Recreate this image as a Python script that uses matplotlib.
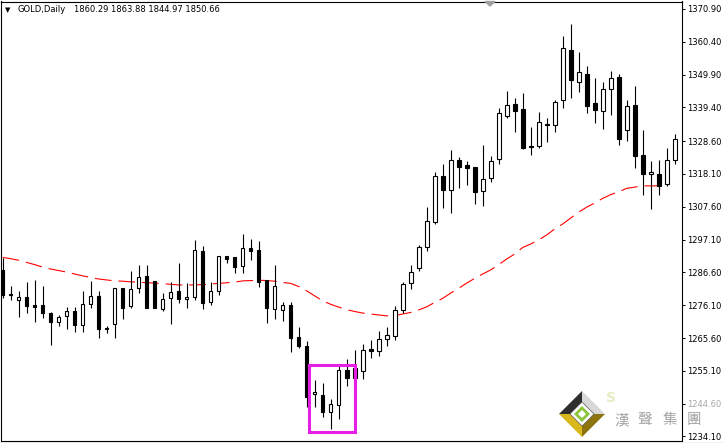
import matplotlib.pyplot as plt
from matplotlib.patches import Rectangle, Polygon
from matplotlib.lines import Line2D

# daily OHLC (oldest first)
opens = [1287.4, 1279.8, 1277.7, 1278.6, 1276.1, 1276.1, 1273.5, 1270.6, 1272.6, 1274.2,
         1269.7, 1276.4, 1279.0, 1268.6, 1270.0, 1281.5, 1275.8, 1281.5, 1285.5, 1283.8,
         1274.8, 1278.3, 1280.6, 1278.0, 1278.6, 1293.4, 1277.0, 1280.6, 1291.8, 1291.4,
         1288.7, 1294.3, 1293.8, 1284.1, 1274.8, 1274.5, 1276.1, 1265.8, 1263.0, 1247.6,
         1247.3, 1241.8, 1244.1, 1255.3, 1252.7, 1255.0, 1262.1, 1261.4, 1265.2, 1266.4,
         1274.5, 1283.1, 1287.9, 1294.6, 1302.8, 1317.4, 1313.1, 1322.5, 1320.9, 1320.2,
         1312.6, 1316.7, 1322.8, 1336.6, 1340.4, 1338.8, 1327.0, 1327.0, 1333.9, 1333.7,
         1341.7, 1357.7, 1347.4, 1350.0, 1340.7, 1338.2, 1345.2, 1349.0, 1332.1, 1340.1,
         1324.1, 1318.0, 1318.0, 1315.0, 1322.5]
highs = [1291.1, 1282.3, 1280.6, 1283.5, 1284.2, 1282.3, 1273.8, 1273.1, 1275.4, 1275.4,
         1280.6, 1283.8, 1280.6, 1269.6, 1281.5, 1281.5, 1287.0, 1288.9, 1288.9, 1283.8,
         1279.9, 1283.4, 1289.5, 1283.1, 1297.0, 1295.1, 1283.4, 1291.8, 1291.8, 1291.4,
         1298.9, 1297.2, 1296.7, 1284.1, 1289.1, 1277.1, 1277.1, 1269.0, 1264.6, 1252.1,
         1251.1, 1246.0, 1256.6, 1258.8, 1261.7, 1263.6, 1264.9, 1267.8, 1269.0, 1275.8,
         1283.4, 1288.9, 1295.3, 1307.6, 1318.7, 1321.2, 1325.9, 1323.4, 1322.2, 1320.2,
         1327.4, 1323.8, 1339.1, 1344.6, 1342.3, 1343.9, 1333.0, 1337.8, 1335.9, 1341.7,
         1362.3, 1366.1, 1357.0, 1352.6, 1348.7, 1347.6, 1351.0, 1350.0, 1341.7, 1346.2,
         1332.1, 1322.2, 1322.5, 1326.5, 1330.8]
lows = [1278.3, 1277.8, 1272.4, 1273.5, 1270.8, 1271.9, 1263.4, 1269.6, 1268.6, 1267.6,
        1267.6, 1275.1, 1265.5, 1267.1, 1265.7, 1271.6, 1275.1, 1279.9, 1275.1, 1275.1,
        1274.2, 1270.0, 1276.7, 1275.1, 1277.7, 1274.8, 1276.1, 1279.3, 1289.5, 1286.3,
        1286.3, 1290.6, 1282.0, 1270.3, 1271.6, 1271.2, 1261.0, 1262.5, 1243.6, 1243.6,
        1240.4, 1236.4, 1239.8, 1250.4, 1252.4, 1252.6, 1259.1, 1259.8, 1263.0, 1264.9,
        1273.5, 1281.2, 1287.2, 1293.6, 1302.1, 1307.3, 1305.7, 1313.7, 1314.7, 1308.6,
        1308.0, 1315.6, 1321.4, 1335.9, 1331.6, 1326.0, 1324.1, 1326.3, 1328.4, 1331.4,
        1339.3, 1342.5, 1344.4, 1337.7, 1334.5, 1332.6, 1337.1, 1327.5, 1328.8, 1320.1,
        1311.5, 1307.0, 1311.3, 1314.2, 1321.2]
closes = [1279.4, 1279.3, 1278.6, 1275.8, 1275.6, 1273.5, 1270.6, 1272.4, 1274.2, 1269.7,
          1276.4, 1279.0, 1268.6, 1268.7, 1281.5, 1275.1, 1281.2, 1285.0, 1275.1, 1275.1,
          1278.0, 1280.2, 1278.0, 1278.6, 1293.7, 1276.7, 1280.6, 1291.8, 1290.8, 1288.3,
          1294.3, 1293.6, 1283.6, 1275.1, 1282.2, 1276.1, 1265.5, 1263.1, 1246.8, 1248.2,
          1241.8, 1244.4, 1255.3, 1252.7, 1255.9, 1261.7, 1261.5, 1265.2, 1266.5, 1274.5,
          1282.8, 1286.6, 1294.6, 1303.0, 1317.4, 1313.1, 1322.5, 1320.4, 1320.1, 1312.4,
          1316.4, 1322.2, 1337.5, 1340.1, 1338.2, 1326.5, 1326.8, 1334.6, 1334.0, 1341.0,
          1358.3, 1348.3, 1350.6, 1340.0, 1338.5, 1345.2, 1348.7, 1329.4, 1339.8, 1324.0,
          1318.2, 1318.6, 1314.2, 1322.5, 1329.2]

# moving average (red dashed)
ma_values = [1291.4, 1291.0, 1290.5, 1289.8, 1289.1, 1288.3, 1287.7, 1287.2, 1286.7, 1286.1,
             1285.5, 1285.0, 1284.5, 1284.2, 1283.9, 1283.8, 1283.6, 1283.5, 1283.3, 1283.2,
             1283.0, 1282.8, 1282.6, 1282.6, 1282.6, 1282.7, 1282.9, 1283.1, 1283.3, 1283.5,
             1283.9, 1284.0, 1284.1, 1284.0, 1283.8, 1283.4, 1283.1, 1282.1, 1280.7, 1279.1,
             1277.5, 1276.4, 1275.5, 1274.7, 1274.1, 1273.6, 1273.3, 1273.0, 1272.7, 1272.8,
             1273.3, 1273.8, 1274.6, 1275.6, 1277.0, 1278.3, 1280.0, 1281.5, 1283.2, 1284.7,
             1286.1, 1287.4, 1289.1, 1290.9, 1292.5, 1294.6, 1295.7, 1297.0, 1298.6, 1300.5,
             1302.1, 1304.0, 1305.9, 1307.5, 1308.8, 1310.3, 1311.5, 1312.4, 1313.5, 1313.9,
             1314.3, 1314.3, 1314.3, 1314.6]

price_ticks = [1234.10, 1244.60, 1255.10, 1265.60, 1276.10, 1286.60, 1297.10,
               1307.60, 1318.10, 1328.60, 1339.40, 1349.90, 1360.40, 1370.90]
header_symbol = 'GOLD,Daily'
header_prices = '1860.29 1863.88 1844.97 1850.66'
watermark_chars = ['漢', '聲', '集', '團']

# highlighted zone (candle index range, price range)
box_x = (38.3, 44.0)
box_y = (1235.6, 1257.0)

FONT = 'DejaVu Sans'
FS = 6.0

W, H = 724, 443
fig = plt.figure(figsize=(W / 100, H / 100), dpi=100)
fig.patch.set_facecolor('white')
ax = fig.add_axes([1 / W, 2.5 / H, 681 / W, 439 / H])

idx = list(range(len(opens)))
ax.vlines(idx, lows, highs, colors='black', linewidth=0.8, zorder=2)
for i in idx:
    o, c = opens[i], closes[i]
    fc = 'white' if c >= o else 'black'
    ax.add_patch(Rectangle((i - 0.225, min(o, c)), 0.45, abs(c - o),
                           facecolor=fc, edgecolor='black', linewidth=0.8, zorder=3))

ax.plot(idx[:len(ma_values)], ma_values, color='red', linewidth=0.8,
        dashes=(15, 6.3), zorder=1)

ax.add_patch(Rectangle((box_x[0], box_y[0]), box_x[1] - box_x[0], box_y[1] - box_y[0],
                       fill=False, edgecolor='#e61ee6', linewidth=2.2, zorder=4))

ax.set_xlim(-0.21, 84.91)
ax.set_ylim(1232.82, 1373.30)
ax.set_xticks([])
ax.yaxis.tick_right()
ax.set_yticks(price_ticks)
ax.set_yticklabels(['%.2f' % p for p in price_ticks], fontsize=FS, family=FONT)
ax.tick_params(axis='y', direction='out', length=2, width=0.7, pad=1.5)
for sp in ax.spines.values():
    sp.set_linewidth(0.8)
# label under the watermark is washed out
ax.get_yticklabels()[1].set_alpha(0.35)

# header
fig.text(5 / W, 1 - 10 / H, '\u25bc', fontsize=5, va='center', ha='left')
fig.text(17 / W, 1 - 10 / H, header_symbol, fontsize=FS, family=FONT,
         va='center', ha='left')
fig.text(74 / W, 1 - 10 / H, header_prices, fontsize=FS, family=FONT,
         va='center', ha='left')

# chart shift marker and window border
fig.add_artist(Polygon([(485 / W, 1 - 1.5 / H), (495 / W, 1 - 1.5 / H), (490 / W, 1 - 6 / H)],
                       closed=True, color='#a0a0a0', transform=fig.transFigure))
fig.add_artist(Line2D([0, 1], [0.5 / H, 0.5 / H], color='black', linewidth=0.8,
                      transform=fig.transFigure))


# watermark logo
def px(points):
    return [(x / W, 1 - y / H) for x, y in points]


cx, cy, R, r = 582, 414, 23, 12
T, Rt, B, L = (cx, cy - R), (cx + R, cy), (cx, cy + R), (cx - R, cy)
t, rt, b, l = (cx, cy - r), (cx + r, cy), (cx, cy + r), (cx - r, cy)
faces = [([L, T, t, l], '#2e2e2e'), ([T, Rt, rt, t], '#d8d8d8'),
         ([Rt, B, b, rt], '#8c7410'), ([B, L, l, b], '#d9b81c')]
for pts, col in faces:
    fig.add_artist(Polygon(px(pts), closed=True, facecolor=col, edgecolor='none',
                           transform=fig.transFigure, zorder=5))
fig.add_artist(Polygon(px([t, rt, b, l]), closed=True, facecolor='white',
                       edgecolor='#555555', linewidth=0.5, transform=fig.transFigure, zorder=5))
g1, g2 = 8, 4
fig.add_artist(Polygon(px([(cx, cy - g1), (cx + g1, cy), (cx, cy + g1), (cx - g1, cy)]),
                       closed=True, facecolor='#8cc43c', edgecolor='none',
                       transform=fig.transFigure, zorder=6))
fig.add_artist(Polygon(px([(cx, cy - g2), (cx + g2, cy), (cx, cy + g2), (cx - g2, cy)]),
                       closed=True, facecolor='white', edgecolor='none',
                       transform=fig.transFigure, zorder=7))
fig.text(611 / W, 1 - 398 / H, 'S', fontsize=10, color='#e6ebc4', fontweight='bold',
         va='center', ha='center', zorder=6)
for ch, x in zip(watermark_chars, [622, 645, 670, 693.5]):
    fig.text(x / W, 1 - 420 / H, ch, fontsize=10.5, color='#a3a3a3',
             family=['Noto Sans CJK TC', 'DejaVu Sans'], va='center', ha='center', zorder=6)

fig.savefig('out.png', dpi=100, facecolor='white')
